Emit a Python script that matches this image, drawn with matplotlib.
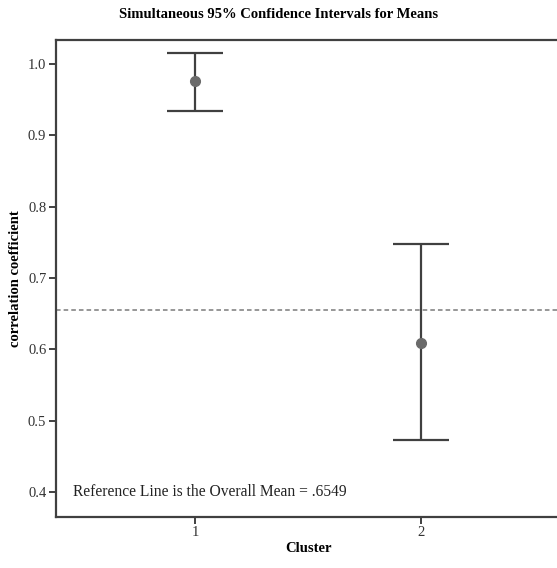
import numpy as np
import matplotlib
matplotlib.use('Agg')
import matplotlib.pyplot as plt

# cluster means and simultaneous 95% CI bounds
clusters = [1, 2]
means = [0.975, 0.609]
lower = [0.934, 0.474]
upper = [1.015, 0.747]
overall_mean = 0.6549

plt.rcParams['font.family'] = ['Liberation Serif', 'DejaVu Serif']

fig = plt.figure(figsize=(5.57, 5.68), dpi=100)
ax = fig.add_axes([56 / 557, 51.3 / 568, 504 / 557, 476.7 / 568])

dark = '#404040'
means_a = np.array(means)
err = [means_a - np.array(lower), np.array(upper) - means_a]
ax.errorbar(clusters, means, yerr=err, fmt='o', color=dark, ecolor=dark,
            elinewidth=1.6, capsize=20, capthick=1.6, markersize=7,
            markerfacecolor='#6a6a6a', markeredgecolor='#6a6a6a', zorder=3)

ax.axhline(overall_mean, color='#7a7a7a', linestyle=(0, (3, 2)), linewidth=1.1, zorder=1)
ax.text(0.46, 0.401, 'Reference Line is the Overall Mean = .6549', fontsize=11.2,
        color='#222222', va='center', ha='left')

ax.set_xlim(0.385, 2.615)
ax.set_ylim(0.366, 1.033)
ax.set_xticks(clusters)
ax.set_xticklabels(['1', '2'])
ax.set_yticks([0.4, 0.5, 0.6, 0.7, 0.8, 0.9, 1.0])
ax.set_yticklabels(['0.4', '0.5', '0.6', '0.7', '0.8', '0.9', '1.0'])
ax.tick_params(direction='out', length=5, width=1.4, color=dark, labelsize=10.5,
               labelcolor='#333333', pad=2)
for s in ax.spines.values():
    s.set_color(dark)
    s.set_linewidth(1.6)

ax.set_xlabel('Cluster', fontsize=10.5, fontweight='bold', labelpad=2)
ax.set_ylabel('correlation coefficient', fontsize=10.5, fontweight='bold', labelpad=4)
fig.text(0.5, 1 - 15 / 568, 'Simultaneous 95% Confidence Intervals for Means',
         ha='center', va='center', fontsize=10.5, fontweight='bold')

fig.savefig('out.png', dpi=100)
